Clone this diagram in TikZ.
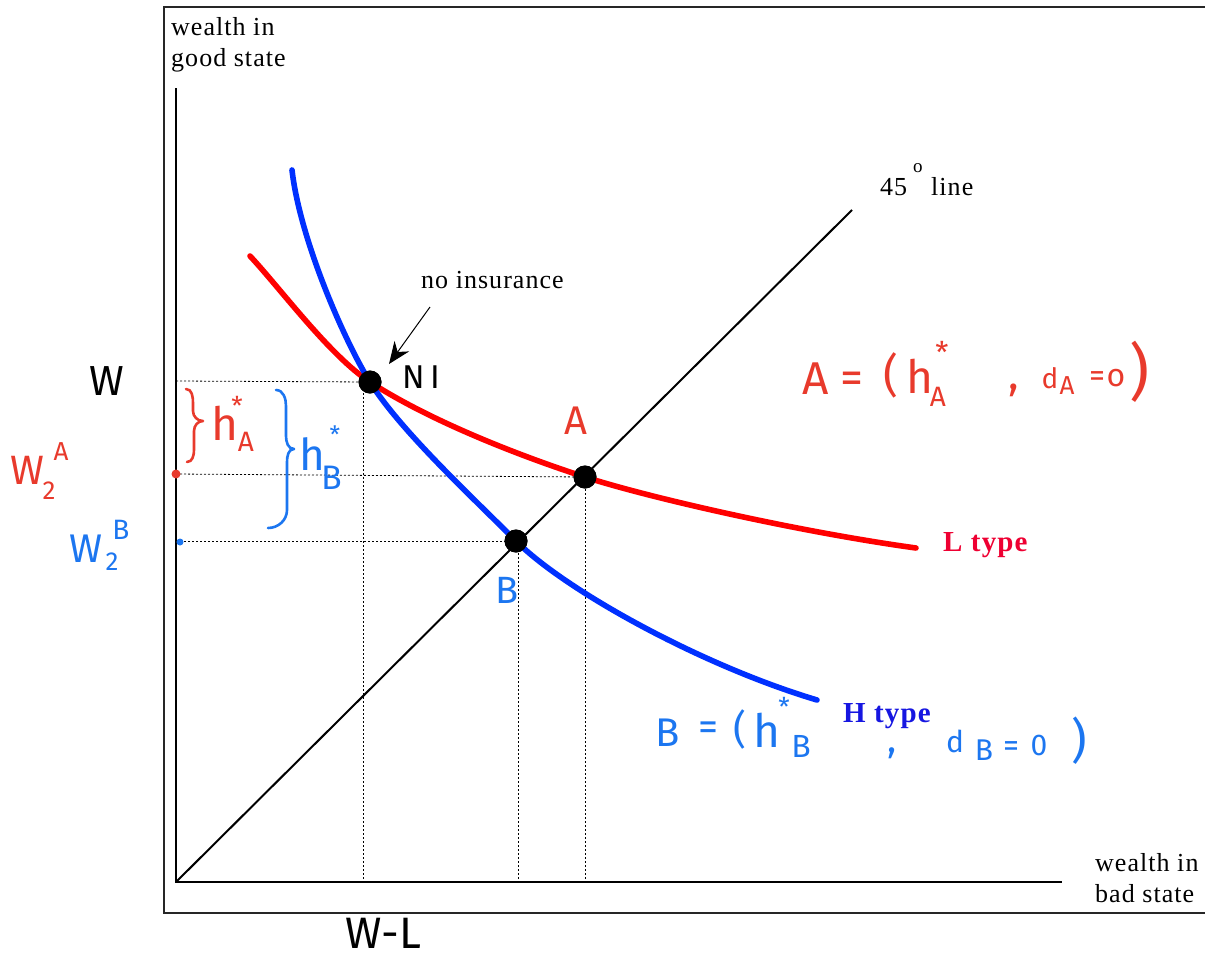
\documentclass[tikz,border=0pt]{standalone}
\usepackage{fontspec}
\setmainfont{Liberation Serif}
\newfontfamily\serifls[LetterSpace=4]{Liberation Serif}
\newfontfamily\hand{Fira Sans}
\usetikzlibrary{arrows.meta}
\definecolor{hred}{RGB}{232,58,44}
\definecolor{hblue}{RGB}{28,118,240}
\definecolor{cred}{RGB}{255,0,0}
\definecolor{cblue}{RGB}{0,48,255}
\definecolor{lred}{RGB}{238,0,50}
\definecolor{lblue}{RGB}{22,22,225}
\newcommand\hw[1]{\hand\fontsize{#1}{#1}\selectfont}
\begin{document}
\begin{tikzpicture}[x=1pt,y=-1pt,
  serif/.style={font=\serifls\fontsize{26}{31}\selectfont, inner sep=0, align=left},
  typelbl/.style={font=\serifls\bfseries\fontsize{29}{31}\selectfont, inner sep=0},
  hwtext/.style={inner sep=0},
  bigdot/.style={circle, fill=black, minimum size=23pt, inner sep=0},
  axisdot/.style={circle, inner sep=0},
  guide/.style={dash pattern=on 2pt off 2pt, line width=0.8pt},
  axisline/.style={line width=2.6pt},
  curve/.style={line width=5.6pt, line cap=round, line join=round},
  brace/.style={line width=2.6pt, line cap=round, line join=round}]
\useasboundingbox (0,0) rectangle (1205,959);
% frame
\draw[line width=1.3pt, black!85] (164,7) rectangle (1230,913);
% axes
\coordinate (O) at (176,882);
\coordinate (ytop) at (176,88);
\coordinate (xend) at (1062,882);
\coordinate (d45) at (852,210);
\draw[axisline] (ytop) -- (O) -- (xend);
\draw[line width=2pt] (O) -- (d45);
% points
\node[bigdot] (NI) at (370,382) {};
\node[bigdot] (A) at (585,477) {};
\node[bigdot] (B) at (516,541) {};
% guides
\coordinate (yNI) at (176,381);
\coordinate (yA) at (176,474);
\coordinate (yB) at (176,541);
\coordinate (xNI) at (363,882);
\coordinate (xNIt) at (363,381);
\coordinate (xB) at (518,882);
\coordinate (xBt) at (518,541);
\coordinate (xA) at (585,882);
\coordinate (xAt) at (585,477);
\draw[guide] (yNI) -- (NI.center);
\draw[guide] (yA) -- (A.center);
\draw[guide] (yB) -- (B.center);
\draw[guide] (xNIt) -- (xNI);
\draw[guide] (xBt) -- (xB);
\draw[guide] (xAt) -- (xA);
% curves
\coordinate (Lstart) at (250,256);
\coordinate (Lend) at (916,548);
\coordinate (Hstart) at (292,170);
\coordinate (Hend) at (817,700);
\draw[curve, cred] (Lstart) .. controls (280,288) and (330,356) .. (NI.center)
  .. controls (430,421) and (520,456) .. (A.center)
  .. controls (650,498) and (800,532) .. (Lend);
\draw[curve, cblue] (Hstart) .. controls (300,240) and (345,342) .. (NI.center)
  .. controls (400,430) and (470,495) .. (B.center)
  .. controls (565,590) and (700,665) .. (Hend);
\node[bigdot] at (NI.center) {};
\node[bigdot] at (A.center) {};
\node[bigdot] at (B.center) {};
% axis labels
\node[serif, anchor=north west] (ylab) at (171,17) {wealth in\\good state};
\node[serif, anchor=north west] (xlab) at (1095,853) {wealth in\\bad state};
\node[serif, anchor=base west] (l45) at (880,195) {45};
\node[serif, anchor=base west, font=\serifls\fontsize{19}{20}\selectfont] (deg) at (913,172) {o};
\node[serif, anchor=base west] (lline) at (931,195) {line};
% no insurance
\node[serif, anchor=base west] (noins) at (421,288) {no insurance};
\coordinate (arrtail) at (430,307);
\coordinate (arrtip) at (389,364);
\draw[line width=1pt, -{Stealth[length=22pt, width=18pt]}] (arrtail) -- (arrtip);
\node[hwtext, font=\hw{33}] (NIl) at (421,377) {N\,I};
% type labels
\node[typelbl, text=lred, anchor=base west] (Ltype) at (943,551) {L type};
\node[typelbl, text=lblue, anchor=base west] (Htype) at (843,722) {H type};
% axis dots
\node[axisdot, fill=hred, minimum size=9pt] (rdot) at (176,474) {};
\node[axisdot, fill=hblue, minimum size=7pt] (bdot) at (180,542) {};
% left labels
\node[hwtext, font=\hw{42}] (Wl) at (107,381) {W};
\node[hwtext, font=\hw{41}, text=hred] (W2A) at (27,470) {W};
\node[hwtext, font=\hw{26}, text=hred] (W2Asub) at (49,491) {2};
\node[hwtext, font=\hw{26}, text=hred] (W2Asup) at (61,452) {A};
\node[hwtext, font=\hw{40}, text=hblue] (W2B) at (86,549) {W};
\node[hwtext, font=\hw{26}, text=hblue] (W2Bsub) at (112,562) {2};
\node[hwtext, font=\hw{28}, text=hblue] (W2Bsup) at (121,530) {B};
\node[hwtext, font=\hw{44}] (WL) at (383,933) {W-L};
% braces
\draw[brace, hred] (186,389) to[out=0,in=90] (193,403) -- (193,411) to[out=-90,in=180] (203,421) to[out=180,in=90] (194,431) -- (194,450) to[out=-90,in=0] (187,462);
\draw[brace, hblue] (276,390) to[out=0,in=90] (286,406) -- (286,436) to[out=-90,in=180] (294,449) to[out=180,in=90] (287,462) -- (287,510) to[out=-90,in=0] (268,528);
\node[hwtext, font=\hw{46}, text=hred] (hA) at (225,423) {h};
\node[hwtext, font=\hw{26}, text=hred] (hAst) at (237,406) {*};
\node[hwtext, font=\hw{28}, text=hred] (hAsub) at (246,442) {A};
\node[hwtext, font=\hw{44}, text=hblue] (hB) at (312,454) {h};
\node[hwtext, font=\hw{24}, text=hblue] (hBst) at (335,435) {*};
\node[hwtext, font=\hw{34}, text=hblue] (hBsub) at (332,478) {B};
% point labels
\node[hwtext, font=\hw{40}, text=hred] (Al) at (576,421) {A};
\node[hwtext, font=\hw{38}, text=hblue] (Bl) at (507,590) {B};
% A equation
\node[hwtext, font=\hw{46}, text=hred] (eA) at (816,379) {A};
\node[hwtext, font=\hw{46}, text=hred] (eAeq) at (852,383) {=};
\node[hwtext, font=\hw{46}, text=hred] (eAp) at (891,375) {(};
\node[hwtext, font=\hw{46}, text=hred] (eAh) at (920,376) {h};
\node[hwtext, font=\hw{30}, text=hred] (eAst) at (942,352) {*};
\node[hwtext, font=\hw{28}, text=hred] (eAsub) at (938,397) {A};
\node[hwtext, font=\hw{44}, text=hred] (eAc) at (1014,390) {,};
\node[hwtext, font=\hw{28}, text=hred] (eAd) at (1050,378) {d};
\node[hwtext, font=\hw{26}, text=hred] (eAdsub) at (1067,386) {A};
\node[hwtext, font=\hw{32}, text=hred] (eAeq2) at (1097,379) {=};
\node[hwtext, font=\hw{32}, text=hred] (eA0) at (1116,378) {o};
\node[hwtext, font=\hw{62}, text=hred] (eAp2) at (1140,372) {)};
% B equation
\node[hwtext, font=\hw{40}, text=hblue] (eB) at (668,733) {B};
\node[hwtext, font=\hw{40}, text=hblue] (eBeq) at (708,731) {=};
\node[hwtext, font=\hw{40}, text=hblue] (eBp) at (740,729) {(};
\node[hwtext, font=\hw{46}, text=hblue] (eBh) at (767,730) {h};
\node[hwtext, font=\hw{26}, text=hblue] (eBst) at (784,707) {*};
\node[hwtext, font=\hw{32}, text=hblue] (eBsub) at (801,746) {B};
\node[hwtext, font=\hw{38}, text=hblue] (eBc) at (892,753) {,};
\node[hwtext, font=\hw{30}, text=hblue] (eBd) at (955,741) {d};
\node[hwtext, font=\hw{30}, text=hblue] (eBdsub) at (984,750) {B};
\node[hwtext, font=\hw{32}, text=hblue] (eBeq2) at (1011,749) {=};
\node[hwtext, font=\hw{30}, text=hblue] (eB0) at (1039,745) {0};
\node[hwtext, font=\hw{48}, text=hblue] (eBp2) at (1079,741) {)};
\end{tikzpicture}
\end{document}
